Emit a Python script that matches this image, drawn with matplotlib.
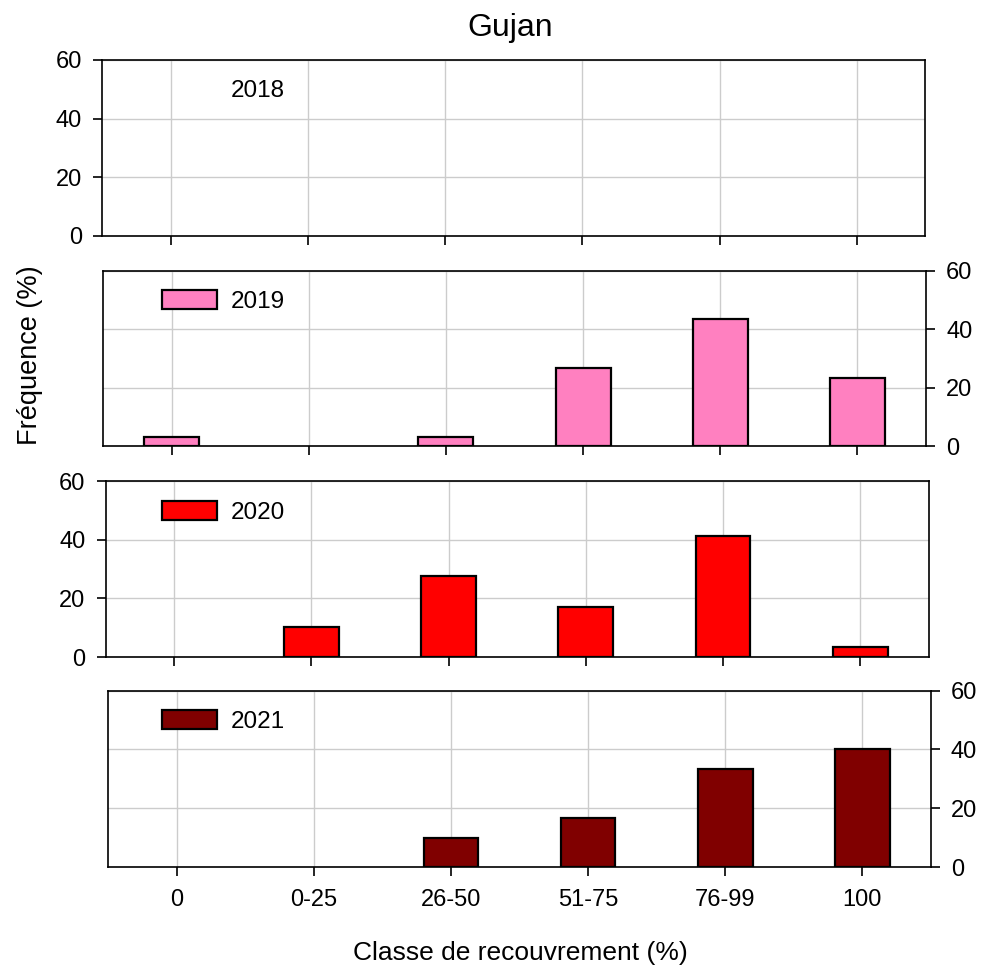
import matplotlib
matplotlib.use("Agg")
import matplotlib.pyplot as plt
from matplotlib.patches import Patch

plt.rcParams['font.family'] = ['Liberation Sans', 'DejaVu Sans']

categories = ["0", "0-25", "26-50", "51-75", "76-99", "100"]
years = ["2018", "2019", "2020", "2021"]
v2018 = [0, 0, 0, 0, 0, 0]
v2019 = [3.33, 0, 3.33, 26.67, 43.33, 23.33]
v2020 = [0, 10.34, 27.59, 17.24, 41.38, 3.45]
v2021 = [0, 0, 10.0, 16.67, 33.33, 40.0]
values = [v2018, v2019, v2020, v2021]
colors = [None, "#FF80C0", "#FF0000", "#800000"]
yticks = [0, 20, 40, 60]

W, H = 981, 967
fig = plt.figure(figsize=(W / 100, H / 100), dpi=100)

# panel boxes in pixels: left, right, top, bottom
boxes = [
    (102.3, 925.3, 60.0, 235.7),
    (103.0, 926.0, 270.7, 446.3),
    (105.7, 928.7, 481.3, 657.0),
    (108.3, 930.7, 690.7, 867.0),
]

x = list(range(len(categories)))
for i, (yr, vals, col, (l, r, t, b)) in enumerate(zip(years, values, colors, boxes)):
    ax = fig.add_axes([l / W, 1 - b / H, (r - l) / W, (b - t) / H])
    ax.set_axisbelow(True)
    ax.grid(True, color="#cccccc", linewidth=1.0)
    if col is not None:
        lws = [1.6 if v > 0 else 0 for v in vals]
        ax.bar(x, vals, width=0.4, color=col, edgecolor="black", linewidth=lws, zorder=3)
        handle = Patch(facecolor=col, edgecolor="black", linewidth=1.6)
    else:
        handle = Patch(facecolor="none", edgecolor="none")
    ax.set_xlim(-0.5, 5.5)
    ax.set_ylim(0, 60)
    ax.set_yticks(yticks)
    ax.set_xticks(x)
    for s in ax.spines.values():
        s.set_linewidth(1.2)
    ax.tick_params(axis="both", direction="out", length=6.5, width=1.2, labelsize=17)
    if i % 2 == 1:
        ax.yaxis.tick_right()
    ax.tick_params(axis="y", pad=8)
    if i == 3:
        ax.set_xticklabels(categories)
        ax.tick_params(axis="x", pad=9)
    else:
        ax.set_xticklabels([])
    lx = (162 - l) / (r - l)
    ly = 1 - 19.5 / (b - t)
    ax.legend([handle], [yr], loc="upper left", bbox_to_anchor=(lx, ly),
              frameon=False, fontsize=17.5, borderpad=0, borderaxespad=0,
              handlelength=2.26, handleheight=0.82, handletextpad=0.55)

fig.text(510 / W, 1 - 28 / H, "Gujan", ha="center", va="center", fontsize=23)
fig.text(520 / W, 1 - 953 / H, "Classe de recouvrement (%)", ha="center", va="center", fontsize=19)
fig.text(30 / W, 1 - 355 / H, "Fréquence (%)", ha="center", va="center", rotation=90, fontsize=19.5)

fig.savefig("out.png", dpi=100)
